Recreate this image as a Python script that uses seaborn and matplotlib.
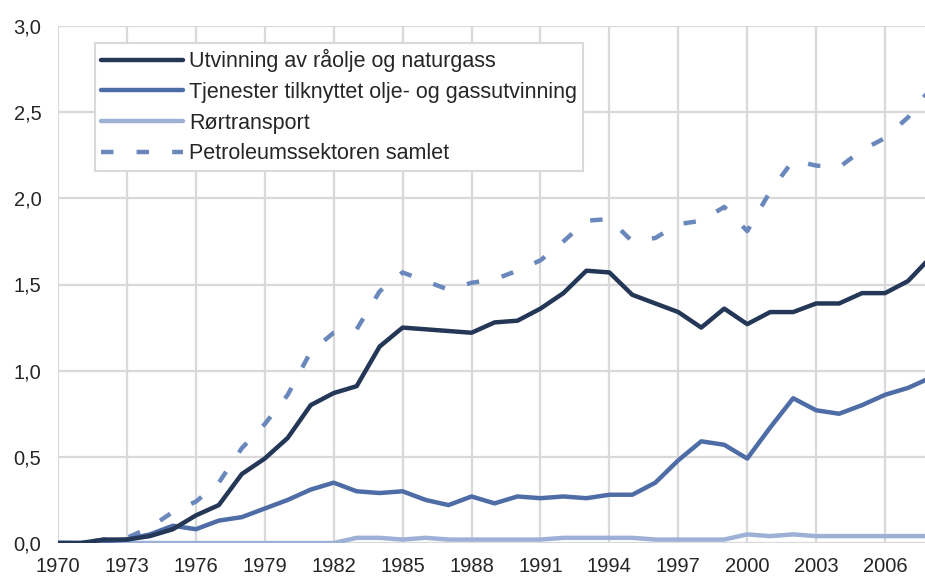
import numpy as np
import pandas as pd
import matplotlib
matplotlib.use("Agg")
import matplotlib.pyplot as plt
import seaborn as sns

years = list(range(1970, 2009))

utvinning = [0.00, 0.00, 0.02, 0.02, 0.04, 0.08, 0.16, 0.22, 0.40, 0.49,
             0.61, 0.80, 0.87, 0.91, 1.14, 1.25, 1.24, 1.23, 1.22, 1.28,
             1.29, 1.36, 1.45, 1.58, 1.57, 1.44, 1.39, 1.34, 1.25, 1.36,
             1.27, 1.34, 1.34, 1.39, 1.39, 1.45, 1.45, 1.52, 1.66]
tjenester = [0.00, 0.00, 0.01, 0.02, 0.05, 0.10, 0.08, 0.13, 0.15, 0.20,
             0.25, 0.31, 0.35, 0.30, 0.29, 0.30, 0.25, 0.22, 0.27, 0.23,
             0.27, 0.26, 0.27, 0.26, 0.28, 0.28, 0.35, 0.48, 0.59, 0.57,
             0.49, 0.67, 0.84, 0.77, 0.75, 0.80, 0.86, 0.90, 0.96]
roertransport = [0.00, 0.00, 0.00, 0.00, 0.00, 0.00, 0.00, 0.00, 0.00, 0.00,
                 0.00, 0.00, 0.00, 0.03, 0.03, 0.02, 0.03, 0.02, 0.02, 0.02,
                 0.02, 0.02, 0.03, 0.03, 0.03, 0.03, 0.02, 0.02, 0.02, 0.02,
                 0.05, 0.04, 0.05, 0.04, 0.04, 0.04, 0.04, 0.04, 0.04]
samlet = [0.00, 0.00, 0.02, 0.03, 0.09, 0.18, 0.24, 0.35, 0.55, 0.69,
          0.86, 1.11, 1.22, 1.24, 1.46, 1.57, 1.52, 1.47, 1.51, 1.53,
          1.58, 1.64, 1.75, 1.87, 1.88, 1.75, 1.77, 1.85, 1.87, 1.95,
          1.81, 2.04, 2.22, 2.19, 2.18, 2.28, 2.35, 2.47, 2.64]

labels = ["Utvinning av råolje og naturgass",
          "Tjenester tilknyttet olje- og gassutvinning",
          "Rørtransport",
          "Petroleumssektoren samlet"]
colors = ["#253757", "#4e6ca6", "#9db0d6", "#6a88bc"]

sns.set_style("white")
plt.rcParams['font.family'] = ['Liberation Sans', 'DejaVu Sans']

fig = plt.figure(figsize=(9.25, 5.79), dpi=100)
ax = fig.add_axes([58 / 925, 36 / 579, 873 / 925, 517 / 579])

series = [utvinning, tjenester, roertransport, samlet]
for i, (vals, lab, col) in enumerate(zip(series, labels, colors)):
    df = pd.DataFrame({"year": years, "value": vals})
    sns.lineplot(data=df, x="year", y="value", ax=ax, color=col,
                 linewidth=3.2, label=lab)
    l = ax.get_lines()[-1]
    if i == 3:
        l.set_dashes((2.8, 5.2))
        l.set_dash_capstyle("butt")
    l.set_zorder(3 + (3 - i) * 0.1)

ax.set_xlim(1970, 2008)
ax.set_ylim(0, 3.0)
ax.set_xticks(range(1970, 2007, 3))
ax.set_yticks(np.arange(0, 3.01, 0.5))
ax.set_yticklabels([f"{v:.1f}".replace(".", ",") for v in np.arange(0, 3.01, 0.5)])
ax.set_xlabel("")
ax.set_ylabel("")
ax.grid(True, color="#d9d9d9", linewidth=1.6)
ax.set_axisbelow(True)
for s in ax.spines.values():
    s.set_visible(False)
ax.tick_params(axis="both", length=0, labelsize=14.5)
ax.tick_params(axis="y", pad=12)
ax.tick_params(axis="x", pad=10)

leg = ax.legend(loc="upper left", bbox_to_anchor=(0.042, 0.968), borderaxespad=0,
                fontsize=15.5, handlelength=3.8, handletextpad=0.28,
                labelspacing=0.45, frameon=True, fancybox=False,
                borderpad=0.3)
leg.get_frame().set_edgecolor("#d9d9d9")
leg.get_frame().set_linewidth(1.5)
leg.get_frame().set_alpha(1)
for h in leg.get_lines():
    h.set_solid_capstyle("round")

fig.savefig("out.png", dpi=100)
